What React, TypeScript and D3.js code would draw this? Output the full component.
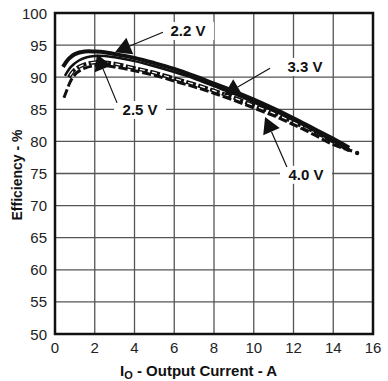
import React from "react";
import * as d3 from "d3";

// Output current (A) and efficiency (%) for each output voltage
const current22 = [0.4, 0.7, 1, 1.5, 2, 2.5, 3, 4, 5, 6, 7, 8, 9, 10, 11, 12, 13, 14, 14.8];
const eff22 = [91.6, 92.9, 93.6, 94.0, 94.0, 93.9, 93.6, 93.0, 92.2, 91.3, 90.2, 89.0, 87.8, 86.5, 85.1, 83.6, 82.0, 80.4, 79.0];

const current25 = [0.5, 0.8, 1.2, 1.6, 2, 2.5, 3, 4, 5, 6, 7, 8, 9, 10, 11, 12, 13, 14, 14.8];
const eff25 = [90.2, 91.6, 92.6, 93.1, 93.3, 93.3, 93.1, 92.5, 91.7, 90.8, 89.8, 88.6, 87.4, 86.1, 84.8, 83.3, 81.7, 80.0, 78.7];

const current33 = [0.7, 1, 1.5, 2, 2.5, 3, 4, 5, 6, 7, 8, 9, 10, 11, 12, 13, 14, 14.8];
const eff33 = [90.0, 91.2, 92.0, 92.3, 92.3, 92.1, 91.4, 90.7, 89.8, 88.9, 87.9, 86.8, 85.6, 84.4, 83.0, 81.6, 80.0, 78.6];

const current40 = [0.45, 0.6, 0.8, 1.1, 1.5, 2, 2.5, 3, 4, 5, 6, 7, 8, 9, 10, 11, 12, 13, 14, 14.95];
const eff40 = [86.8, 88.0, 89.5, 90.7, 91.4, 91.8, 91.8, 91.6, 91.0, 90.3, 89.4, 88.5, 87.5, 86.4, 85.2, 84.0, 82.6, 81.1, 79.5, 78.5];

const xTicks = [0, 2, 4, 6, 8, 10, 12, 14, 16];
const yTicks = [50, 55, 60, 65, 70, 75, 80, 85, 90, 95, 100];

// Callouts: label position, leader start, and arrow tip (data units)
const calloutNames = ["2.2 V", "2.5 V", "3.3 V", "4.0 V"];
const calloutLabel = [[6.69, 97.2], [4.28, 84.9], [12.58, 91.6], [12.63, 74.8]];
const calloutStart = [[5.43, 97.0], [3.12, 86.0], [10.82, 91.4], [11.67, 76.0]];
const calloutTip = [[3.02, 93.9], [2.11, 93.6], [8.5, 87.2], [10.57, 83.8]];

const W = 388;
const H = 381;
const M = { left: 55, right: 15, top: 13, bottom: 47 };

export default function App() {
  const x = d3.scaleLinear().domain([0, 16]).range([M.left, W - M.right]);
  const y = d3.scaleLinear().domain([50, 100]).range([H - M.bottom, M.top]);

  const line = d3
    .line<[number, number]>()
    .x((d) => x(d[0]))
    .y((d) => y(d[1]))
    .curve(d3.curveCatmullRom.alpha(0.5));

  const zip = (a: number[], b: number[]) => a.map((v, i) => [v, b[i]] as [number, number]);

  const p22 = line(zip(current22, eff22)) || "";
  const p25 = line(zip(current25, eff25)) || "";
  const p33 = line(zip(current33, eff33)) || "";
  const p40 = line(zip(current40, eff40)) || "";

  const font = "Arial, 'Liberation Sans', Helvetica, sans-serif";
  const last40 = current40.length - 1;

  return (
    <svg
      width={W}
      height={H}
      style={{ position: "absolute", left: 0, top: 0, background: "#fff" }}
      fontFamily={font}
    >
      {/* grid */}
      {xTicks.map((t) => (
        <line key={"gx" + t} x1={x(t)} x2={x(t)} y1={y(50)} y2={y(100)} stroke="#555" strokeWidth={1.3} />
      ))}
      {yTicks.map((t) => (
        <line key={"gy" + t} x1={x(0)} x2={x(16)} y1={y(t)} y2={y(t)} stroke="#555" strokeWidth={1.3} />
      ))}

      {/* curves */}
      <path d={p40} fill="none" stroke="#111" strokeWidth={3} strokeDasharray="9,3" />
      <circle cx={x(current40[last40]) + 5} cy={y(eff40[last40]) + 2} r={2.2} fill="#111" />
      <path d={p33} fill="none" stroke="#111" strokeWidth={4} strokeDasharray="10,2.5" />
      <path d={p33} fill="none" stroke="#fff" strokeWidth={1.2} strokeDasharray="5,7.5" strokeDashoffset={-2} />
      <path d={p25} fill="none" stroke="#111" strokeWidth={2.5} />
      <path d={p22} fill="none" stroke="#111" strokeWidth={4} />

      {/* frame */}
      <rect x={x(0)} y={y(100)} width={x(16) - x(0)} height={y(50) - y(100)} fill="none" stroke="#111" strokeWidth={2.5} />

      {/* callouts */}
      {calloutNames.map((name, i) => {
        const lx = x(calloutLabel[i][0]);
        const ly = y(calloutLabel[i][1]);
        const sx = x(calloutStart[i][0]);
        const sy = y(calloutStart[i][1]);
        const tx = x(calloutTip[i][0]);
        const ty = y(calloutTip[i][1]);
        const dx = tx - sx;
        const dy = ty - sy;
        const len = Math.hypot(dx, dy);
        const ux = dx / len;
        const uy = dy / len;
        const head = 16;
        const half = 9;
        const bx = tx - ux * head;
        const by = ty - uy * head;
        const tri = [
          [tx, ty],
          [bx - uy * half, by + ux * half],
          [bx + uy * half, by - ux * half],
        ];
        return (
          <g key={name}>
            <rect x={lx - 26} y={ly - 9} width={52} height={18} fill="#fff" />
            <line x1={sx} y1={sy} x2={bx} y2={by} stroke="#111" strokeWidth={1.2} />
            <polygon points={tri.map((p) => p.join(",")).join(" ")} fill="#111" />
            <text x={lx} y={ly} textAnchor="middle" dominantBaseline="central" fontSize={15} fontWeight="bold" fill="#111">
              {name}
            </text>
          </g>
        );
      })}

      {/* tick labels */}
      {xTicks.map((t) => (
        <text key={"xl" + t} x={x(t)} y={353} textAnchor="middle" fontSize={15} fill="#222">
          {t}
        </text>
      ))}
      {yTicks.map((t) => (
        <text key={"yl" + t} x={47} y={y(t)} textAnchor="end" dominantBaseline="central" fontSize={15} fill="#222">
          {t}
        </text>
      ))}

      {/* axis titles */}
      <text x={120} y={376} fontSize={15} fontWeight="bold" fill="#111">
        I<tspan fontSize={11} dy={3}>O</tspan>
        <tspan dy={-3}> - Output Current - A</tspan>
      </text>
      <text
        transform={`translate(22,175) rotate(-90)`}
        textAnchor="middle"
        fontSize={14}
        fontWeight="bold"
        fill="#111"
      >
        Efficiency - %
      </text>
    </svg>
  );
}
